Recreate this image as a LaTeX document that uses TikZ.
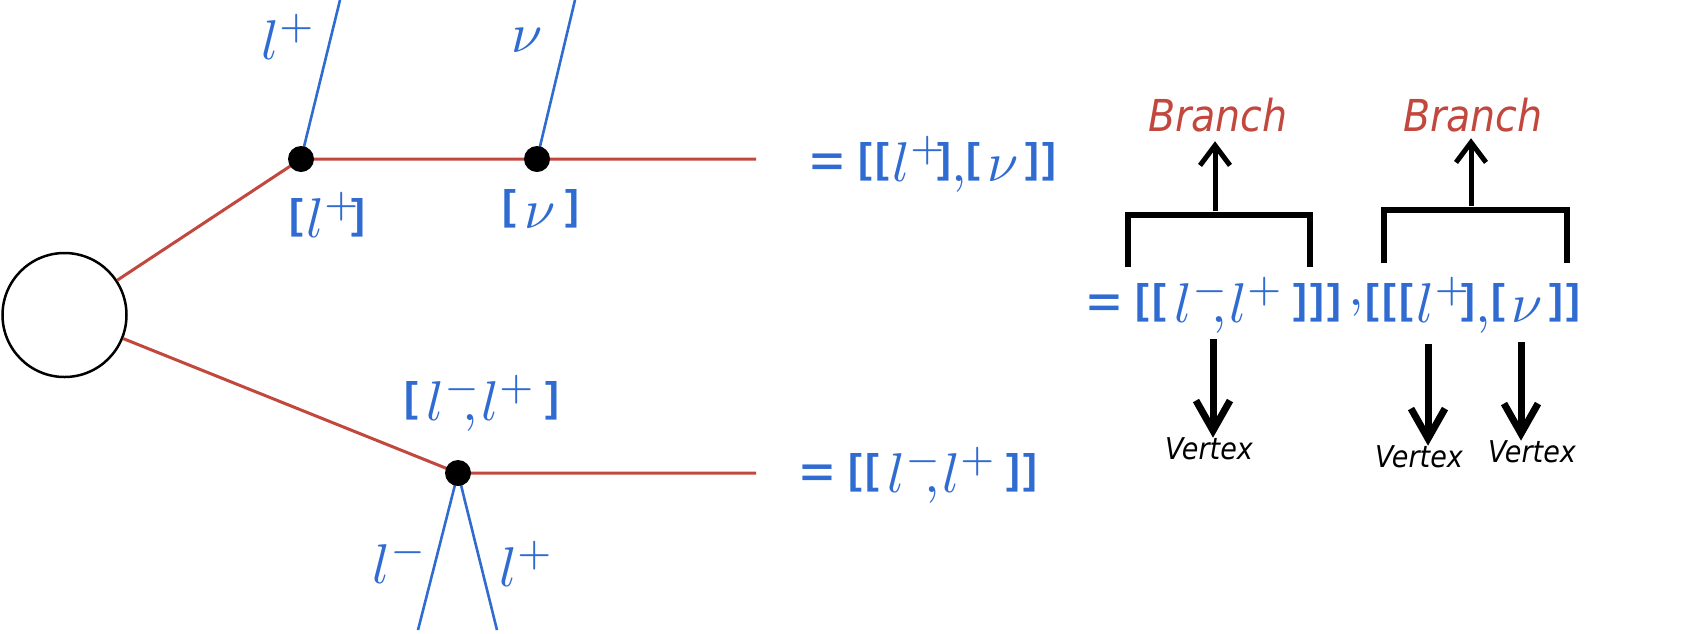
\documentclass[tikz,border=0pt]{standalone}
\usepackage{fontspec}
\newfontfamily\labelfont{DejaVu Sans Condensed}
\newfontfamily\brf{Liberation Sans}
\usetikzlibrary{arrows.meta,calc}
\definecolor{lblue}{HTML}{2F6BD1}
\definecolor{lred}{HTML}{C2473D}
\newcommand{\mbig}[1]{\scalebox{5.6}{#1}}
\newcommand{\Lb}{\raisebox{1.5pt}{\brf\bfseries\fontsize{7.4}{8}\selectfont[}\kern0.6pt}
\newcommand{\Rb}{\kern0.6pt\raisebox{1.5pt}{\brf\bfseries\fontsize{7.4}{8}\selectfont]}}
\newcommand{\Eqs}{\raisebox{1pt}{\scalebox{1.4}[1]{\brf\bfseries\fontsize{7.4}{8}\selectfont=}}\kern2.5pt}
\newcommand{\LmLp}{\kern0.9pt$l^{-}$\kern-3.4pt$,$\kern0.5pt$l^{+}$\kern1pt}
\tikzset{
  blob/.style={circle,draw=black,line width=2.5pt,minimum size=124pt,inner sep=0pt},
  vdot/.style={circle,fill=black,minimum size=26pt,inner sep=0pt},
  redline/.style={draw=lred,line width=3pt},
  blueline/.style={draw=lblue,line width=2.6pt},
  mlabel/.style={text=lblue,inner sep=0pt,anchor=base west},
  branchlbl/.style={text=lred,font=\labelfont\itshape\fontsize{44}{50}\selectfont,inner sep=0pt},
  vertexlbl/.style={text=black,font=\labelfont\itshape\fontsize{30}{34}\selectfont,inner sep=0pt},
  bracket/.style={draw=black,line width=5.5pt},
  uparrow/.style={draw=black,line width=5pt,-{Straight Barb[length=20pt,width=30pt,line width=5pt]}},
  downarrow/.style={draw=black,line width=7pt,-{Straight Barb[length=30pt,width=34pt,line width=7pt]}}
}
\begin{document}
\begin{tikzpicture}[x=1pt,y=-1pt]
\useasboundingbox (0,0) rectangle (1686,633);
% left diagram
\node[blob] (c) at (64.5,315) {};
\coordinate (v1) at (301,159);
\coordinate (v2) at (537,159);
\coordinate (v3) at (458,473);
\coordinate (t1) at (340,0);
\coordinate (t2) at (575,0);
\coordinate (e1) at (756,159);
\coordinate (e2) at (756,473);
\coordinate (b1) at (418,630);
\coordinate (b2) at (497,630);
\draw[redline] (c) -- (v1) -- (v2) -- (e1);
\draw[redline] (c) -- (v3) -- (e2);
\draw[blueline] (v1) -- (t1);
\draw[blueline] (v2) -- (t2);
\draw[blueline] (v3) -- (b1);
\draw[blueline] (v3) -- (b2);
\node[vdot] (d1) at (v1) {};
\node[vdot] (d2) at (v2) {};
\node[vdot] (d3) at (v3) {};
\node[mlabel] (lp1) at (261,59) {\mbig{$l^{+}$}};
\node[mlabel] (nu1) at (511,52) {\mbig{$\nu$}};
\node[mlabel] (blp) at (289,237) {\mbig{\Lb$l^{+}$\kern-2.4pt\Rb}};
\node[mlabel] (bnu) at (502,228) {\mbig{\Lb\kern1pt$\nu$\kern1pt\Rb}};
\node[mlabel] (blmp) at (404,420) {\mbig{\Lb\LmLp\Rb}};
\node[mlabel] (lm2) at (372,583) {\mbig{$l^{-}$}};
\node[mlabel] (lp2) at (499,586) {\mbig{$l^{+}$}};
\node[mlabel] (eq1) at (810,181) {\mbig{\Eqs\Lb\Lb$l^{+}$\kern-2.4pt\Rb$,$\Lb\kern0.6pt$\nu$\kern0.6pt\Rb\Rb}};
\node[mlabel] (eq2) at (800,492) {\mbig{\Eqs\Lb\Lb\LmLp\Rb\Rb}};
% right part
\node[mlabel] (eq3) at (1087,322) {\mbig{\Eqs\Lb\Lb\LmLp\Rb\Rb\Rb\kern1.2pt\raisebox{3pt}{$,$}\kern0.3pt\Lb\Lb\Lb$l^{+}$\kern-2.4pt\Rb$,$\Lb\kern0.6pt$\nu$\kern0.6pt\Rb\Rb}};
\node[branchlbl] (br1) at (1218,115) {Branch};
\node[branchlbl] (br2) at (1473,115) {Branch};
\draw[bracket] (1128,267) -- (1128,215) -- (1310,215) -- (1310,267);
\draw[bracket] (1384,263) -- (1384,210) -- (1567,210) -- (1567,263);
\coordinate (k1) at (1215,211);
\coordinate (k2) at (1471,206);
\draw[uparrow] (k1) -- ($(k1 |- br1.south)+(0,9)$);
\draw[uparrow] (k2) -- ($(k2 |- br2.south)+(0,6)$);
\node[vertexlbl] (vx1) at (1209,449) {Vertex};
\node[vertexlbl] (vx2) at (1419,457) {Vertex};
\node[vertexlbl] (vx3) at (1532,452) {Vertex};
\coordinate (s1) at (1213,339);
\coordinate (s2) at (1428,344);
\coordinate (s3) at (1521,342);
\draw[downarrow] (s1) -- (s1 |- vx1.north);
\draw[downarrow] (s2) -- (s2 |- vx2.north);
\draw[downarrow] (s3) -- (s3 |- vx3.north);
\end{tikzpicture}
\end{document}
